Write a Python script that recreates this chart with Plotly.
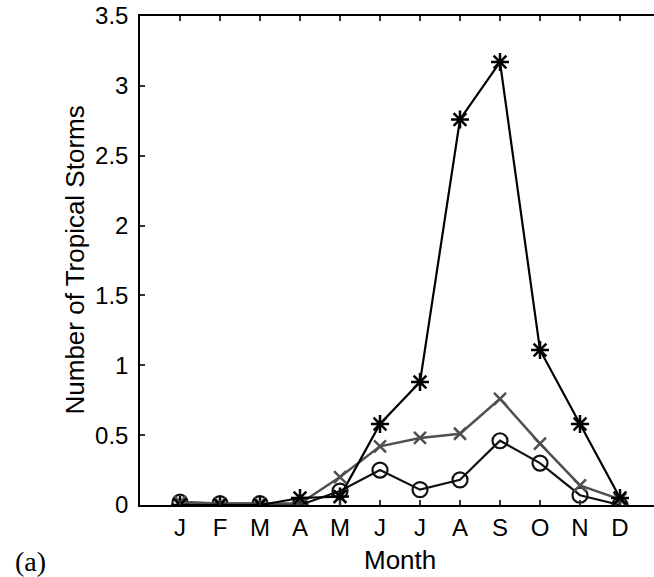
import plotly.graph_objects as go

months = ["J", "F", "M", "A", "M", "J", "J", "A", "S", "O", "N", "D"]
month_pos = list(range(1, 13))

storms_star = [0.0, 0.0, 0.0, 0.05, 0.06, 0.58, 0.88, 2.76, 3.17, 1.11, 0.58, 0.05]
storms_x = [0.02, 0.01, 0.01, 0.01, 0.20, 0.42, 0.48, 0.51, 0.76, 0.44, 0.14, 0.04]
storms_circle = [0.02, 0.01, 0.01, 0.0, 0.10, 0.25, 0.11, 0.18, 0.46, 0.30, 0.07, 0.0]

yticks = [0, 0.5, 1, 1.5, 2, 2.5, 3, 3.5]
ytick_text = ["0", "0.5", "1", "1.5", "2", "2.5", "3", "3.5"]

W, H = 654, 577
L, R, T, B = 140, 0, 15.5, 71.5
plot_w = W - L - R
plot_h = H - T - B
x_max = plot_w / 40.0

fig = go.Figure()
fig.add_trace(go.Scatter(
    x=month_pos, y=storms_circle, mode="lines+markers",
    line=dict(color="#111111", width=2.2),
    marker=dict(symbol="circle-open", size=15, color="#111111", line=dict(width=2.2)),
    showlegend=False))
fig.add_trace(go.Scatter(
    x=month_pos, y=storms_x, mode="lines+markers",
    line=dict(color="#505050", width=2.5),
    marker=dict(symbol="x-thin-open", size=12, color="#505050", line=dict(width=2.5, color="#505050")),
    showlegend=False))
fig.add_trace(go.Scatter(
    x=month_pos, y=storms_star, mode="lines+markers",
    line=dict(color="#000000", width=2.2),
    marker=dict(symbol="asterisk-open", size=15, color="#000000", line=dict(width=2.5, color="#000000")),
    showlegend=False))

font_family = "Liberation Sans, Arial, sans-serif"
TFS = 24
LFS = 26

fig.update_layout(
    width=W, height=H,
    margin=dict(l=L, r=R, t=T, b=B, pad=0),
    paper_bgcolor="white", plot_bgcolor="white",
    font=dict(family=font_family, size=TFS, color="black"),
    xaxis=dict(
        range=[0, x_max], tickmode="array", tickvals=month_pos, ticktext=months,
        showline=True, linecolor="black", linewidth=1.5, mirror="ticks",
        ticks="inside", ticklen=5, tickwidth=1.5, tickcolor="#333333",
        showgrid=False, zeroline=False, ticklabelstandoff=0,
        tickfont=dict(size=TFS, family=font_family, color="black")),
    yaxis=dict(
        range=[0, 3.5], tickmode="array", tickvals=yticks, ticktext=ytick_text,
        showline=True, linecolor="black", linewidth=1.5, mirror=False,
        ticks="inside", ticklen=5, tickwidth=1.5, tickcolor="#333333",
        showgrid=False, zeroline=False, ticklabelstandoff=5,
        tickfont=dict(size=TFS, family=font_family, color="black")),
    annotations=[
        dict(text="Number of Tropical Storms", xref="paper", yref="paper",
             x=(74 - L) / plot_w, y=0.5, xanchor="center", yanchor="middle",
             textangle=-90, showarrow=False,
             font=dict(size=LFS, family=font_family, color="black")),
        dict(text="Month", xref="paper", yref="paper",
             x=(400 - L) / plot_w, y=(H - B - 561) / plot_h,
             xanchor="center", yanchor="middle", showarrow=False,
             font=dict(size=LFS, family=font_family, color="black")),
        dict(text="(a)", xref="paper", yref="paper",
             x=(30 - L) / plot_w, y=(H - B - 562) / plot_h,
             xanchor="center", yanchor="middle", showarrow=False,
             font=dict(size=28, family="Liberation Serif, Times New Roman, serif", color="black")),
    ],
)

fig.write_html("out.html")
